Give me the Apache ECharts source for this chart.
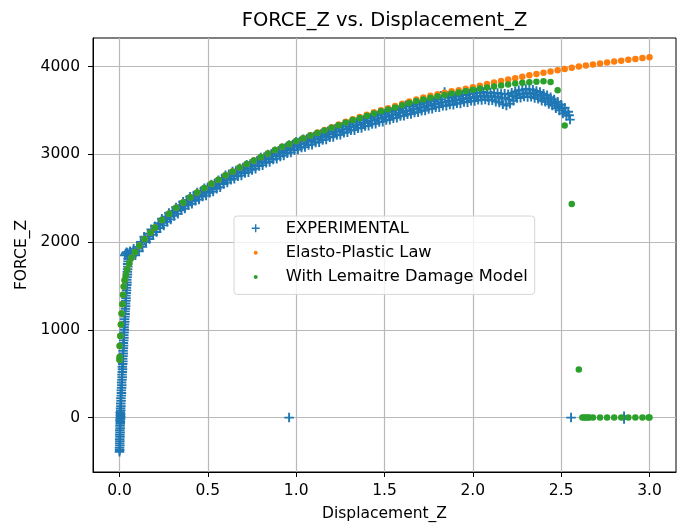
<!DOCTYPE html>
<html>
<head>
<meta charset="utf-8">
<title>FORCE_Z vs. Displacement_Z</title>
<script src="https://cdn.jsdelivr.net/npm/echarts@6/dist/echarts.min.js"></script>
<style>
  html, body { margin: 0; padding: 0; background: #fff; }
  #graph { width: 698px; height: 532px; }
</style>
</head>
<body>
<div id="graph"></div>
<script>
// tick labels
var xTicks = [0, 0.5, 1, 1.5, 2, 2.5, 3];
var yTicks = [0, 1000, 2000, 3000, 4000];

// EXPERIMENTAL: steep elastic rise near x = 0
var expRise = [
  [0.000,-390],[0.001,-370],[0.000,-345],[0.002,-320],[0.001,-295],[0.002,-270],[0.001,-245],[0.003,-220],
  [0.002,-195],[0.003,-170],[0.002,-145],[0.004,-120],[0.003,-95],[0.004,-70],[0.005,-50],[0.003,-30],
  [0.006,-15],[0.004,0],[0.007,10],[0.005,25],[0.006,40],[0.004,60],[0.007,80],[0.006,105],[0.008,130],
  [0.007,160],[0.009,190],[0.008,220],[0.010,250],[0.011,280],[0.010,310],[0.012,340],[0.013,370],
  [0.012,400],[0.014,430],[0.015,460],[0.014,490],[0.016,520],[0.017,550],[0.016,580],[0.018,610],
  [0.019,640],[0.018,670],[0.020,700],[0.021,730],[0.020,760],[0.022,790],[0.023,820],[0.022,850],
  [0.024,880],[0.025,910],[0.024,940],[0.026,970],[0.027,1000],[0.026,1030],[0.028,1060],[0.030,1090],
  [0.029,1120],[0.031,1150],[0.032,1180],[0.031,1210],[0.033,1240],[0.035,1270],[0.034,1300],
  [0.036,1330],[0.037,1360],[0.036,1390],[0.038,1420],[0.040,1450],[0.039,1480],[0.041,1510],
  [0.042,1540],[0.041,1570],[0.043,1600],[0.045,1630],[0.044,1660],[0.046,1690],[0.047,1720],
  [0.046,1750],[0.048,1780],[0.049,1810],[0.030,1850],[0.035,1870],[0.040,1885],[0.045,1875],
  [0.052,1860],[0.058,1855]
];

// EXPERIMENTAL: upper edge of the plastic band
var expUpper = [
  [0.06,1895],[0.08,1925],[0.10,1945],[0.12,2000],[0.14,2060],[0.16,2095],[0.18,2145],[0.20,2180],
  [0.22,2215],[0.24,2265],[0.26,2290],[0.28,2330],[0.30,2355],[0.32,2395],[0.34,2420],[0.36,2460],
  [0.38,2480],[0.40,2515],[0.42,2530],[0.44,2565],[0.46,2580],[0.48,2612],[0.50,2625],[0.52,2655],
  [0.54,2670],[0.56,2705],[0.58,2725],[0.60,2760],[0.62,2772],[0.64,2805],[0.66,2815],[0.68,2842],
  [0.70,2850],[0.72,2880],[0.74,2888],[0.76,2915],[0.78,2930],[0.80,2962],[0.82,2970],[0.84,2998],
  [0.86,3005],[0.88,3035],[0.90,3040],[0.92,3070],[0.94,3078],[0.96,3105],[0.98,3112],[1.00,3142],
  [1.02,3145],[1.04,3170],[1.06,3175],[1.08,3198],[1.10,3202],[1.12,3225],[1.14,3230],[1.16,3255],
  [1.18,3262],[1.20,3285],[1.22,3290],[1.24,3312],[1.26,3315],[1.28,3338],[1.30,3342],[1.32,3365],
  [1.34,3366],[1.36,3390],[1.38,3390],[1.40,3412],[1.42,3415],[1.44,3437],[1.46,3440],[1.48,3462],
  [1.50,3462],[1.52,3485],[1.54,3483],[1.56,3505],[1.58,3505],[1.60,3528],[1.62,3560],[1.64,3548],
  [1.66,3548],[1.68,3570],[1.70,3568],[1.72,3590],[1.74,3588],[1.76,3610],[1.78,3608],[1.80,3628],
  [1.82,3625],[1.84,3710],[1.86,3650],[1.88,3645],[1.90,3662],[1.92,3660],[1.94,3678],[1.96,3675],
  [1.98,3692],[2.00,3688],[2.02,3703],[2.04,3700],[2.06,3710],[2.08,3700],[2.10,3705],[2.12,3695],
  [2.14,3698],[2.16,3688],[2.18,3690],[2.20,3685],[2.22,3700],[2.24,3715],[2.26,3730],[2.28,3735],
  [2.30,3745],[2.32,3738],[2.34,3735],[2.36,3722],[2.38,3710],[2.40,3690],[2.42,3672],[2.44,3650],
  [2.46,3625],[2.48,3598],[2.50,3565],[2.52,3530],[2.54,3485]
];

// EXPERIMENTAL: middle of the plastic band
var expMid = [
  [0.065,1868],[0.085,1880],[0.105,1925],[0.125,1972],[0.145,2032],[0.165,2064],[0.185,2114],[0.205,2146],
  [0.225,2194],[0.245,2220],[0.265,2265],[0.285,2290],[0.305,2332],[0.325,2355],[0.345,2396],[0.365,2415],
  [0.385,2453],[0.405,2470],[0.425,2506],[0.445,2520],[0.465,2554],[0.485,2566],[0.505,2599],[0.525,2611],
  [0.545,2644],[0.565,2660],[0.585,2698],[0.605,2714],[0.625,2746],[0.645,2758],[0.665,2787],[0.685,2795],
  [0.705,2823],[0.725,2831],[0.745,2859],[0.765,2870],[0.785,2902],[0.805,2914],[0.825,2941],[0.845,2949],
  [0.865,2977],[0.885,2985],[0.905,3013],[0.925,3021],[0.945,3049],[0.965,3057],[0.985,3085],[1.005,3092],
  [1.025,3116],[1.045,3120],[1.065,3144],[1.085,3148],[1.105,3172],[1.125,3176],[1.145,3200],[1.165,3206],
  [1.185,3232],[1.205,3237],[1.225,3259],[1.245,3261],[1.265,3284],[1.285,3288],[1.305,3312],[1.325,3314],
  [1.345,3336],[1.365,3338],[1.385,3360],[1.405,3362],[1.425,3384],[1.445,3386],[1.465,3408],[1.485,3410],
  [1.505,3431],[1.525,3431],[1.545,3451],[1.565,3453],[1.585,3475],[1.605,3476],[1.625,3496],[1.645,3496],
  [1.665,3516],[1.685,3516],[1.705,3536],[1.725,3536],[1.745,3556],[1.765,3556],[1.785,3576],[1.805,3576],
  [1.825,3594],[1.845,3592],[1.865,3608],[1.885,3604],[1.905,3621],[1.925,3619],[1.945,3637],[1.965,3633],
  [1.985,3649],[2.005,3645],[2.025,3661],[2.045,3657],[2.065,3668],[2.085,3656],[2.105,3663],[2.125,3649],
  [2.145,3655],[2.165,3635],[2.185,3640],[2.205,3625],[2.225,3664],[2.245,3670],[2.265,3690],[2.285,3688],
  [2.305,3703],[2.325,3689],[2.345,3695],[2.365,3672],[2.385,3666],[2.405,3639],[2.425,3629],[2.445,3599],
  [2.465,3583],[2.485,3545],[2.505,3526],[2.525,3483],[2.545,3444]
];

// EXPERIMENTAL: lower edge of the plastic band
var expLower = [
  [0.07,1835],[0.09,1850],[0.11,1895],[0.13,1945],[0.15,2000],[0.17,2035],[0.19,2082],[0.21,2115],
  [0.23,2160],[0.25,2190],[0.27,2232],[0.29,2258],[0.31,2298],[0.33,2322],[0.35,2362],[0.37,2382],
  [0.39,2418],[0.41,2436],[0.43,2470],[0.45,2485],[0.47,2518],[0.49,2530],[0.51,2562],[0.53,2576],
  [0.55,2606],[0.57,2625],[0.59,2662],[0.61,2678],[0.63,2710],[0.65,2722],[0.67,2750],[0.69,2758],
  [0.71,2786],[0.73,2795],[0.75,2822],[0.77,2835],[0.79,2866],[0.81,2876],[0.83,2904],[0.85,2912],
  [0.87,2940],[0.89,2948],[0.91,2976],[0.93,2985],[0.95,3012],[0.97,3020],[0.99,3048],[1.01,3055],
  [1.03,3078],[1.05,3082],[1.07,3106],[1.09,3110],[1.11,3134],[1.13,3138],[1.15,3162],[1.17,3168],
  [1.19,3194],[1.21,3198],[1.23,3220],[1.25,3222],[1.27,3246],[1.29,3250],[1.31,3273],[1.33,3275],
  [1.35,3297],[1.37,3300],[1.39,3321],[1.41,3324],[1.43,3345],[1.45,3348],[1.47,3369],[1.49,3372],
  [1.51,3392],[1.53,3393],[1.55,3412],[1.57,3415],[1.59,3436],[1.61,3438],[1.63,3457],[1.65,3458],
  [1.67,3477],[1.69,3478],[1.71,3497],[1.73,3498],[1.75,3517],[1.77,3518],[1.79,3537],[1.81,3537],
  [1.83,3554],[1.85,3553],[1.87,3568],[1.89,3565],[1.91,3581],[1.93,3580],[1.95,3597],[1.97,3594],
  [1.99,3609],[2.01,3606],[2.03,3621],[2.05,3618],[2.07,3625],[2.09,3614],[2.11,3615],[2.13,3600],
  [2.15,3590],[2.17,3570],[2.19,3555],[2.21,3575],[2.23,3610],[2.25,3640],[2.27,3645],[2.29,3658],
  [2.31,3652],[2.33,3655],[2.35,3642],[2.37,3632],[2.39,3610],[2.41,3598],[2.43,3572],[2.45,3555],
  [2.47,3525],[2.49,3500],[2.51,3465],[2.53,3440],[2.55,3395]
];

// EXPERIMENTAL: points after fracture
var expStray = [[0.96,0],[2.556,0],[2.856,15],[2.856,-15]];

// Elasto-Plastic Law
var plasticLaw = [
  [0.000,660],[0.001,690],[0.001,815],[0.005,930],[0.008,1060],[0.012,1186],[0.016,1292],[0.020,1400],
  [0.024,1495],[0.029,1565],[0.036,1625],[0.044,1688],[0.055,1755],[0.068,1820],[0.088,1888],
  [0.112,1962],[0.142,2036],[0.175,2105],[0.20,2165],[0.24,2250],[0.28,2322],[0.32,2390],[0.36,2452],
  [0.40,2511],[0.44,2566],[0.48,2617],[0.52,2664],[0.56,2710],[0.60,2760],[0.64,2805],[0.68,2850],
  [0.72,2890],[0.76,2928],[0.80,2970],[0.84,3010],[0.88,3048],[0.92,3085],[0.96,3118],[1.00,3152],
  [1.04,3184],[1.08,3216],[1.12,3247],[1.16,3277],[1.20,3308],[1.24,3339],[1.28,3370],[1.32,3399],
  [1.36,3424],[1.40,3451],[1.44,3478],[1.48,3502],[1.52,3525],[1.56,3550],[1.60,3577],[1.64,3602],
  [1.68,3625],[1.72,3646],[1.76,3666],[1.80,3683],[1.84,3700],[1.88,3717],[1.92,3731],[1.96,3747],
  [2.00,3763],[2.04,3781],[2.08,3800],[2.12,3818],[2.16,3835],[2.20,3851],[2.24,3867],[2.28,3883],
  [2.32,3900],[2.36,3915],[2.40,3930],[2.44,3944],[2.48,3958],[2.52,3972],[2.56,3986],[2.60,3999],
  [2.64,4012],[2.68,4024],[2.72,4035],[2.76,4046],[2.80,4057],[2.84,4067],[2.88,4077],[2.92,4087],
  [2.96,4097],[3.00,4107]
];

// With Lemaitre Damage Model
var lemaitre = [
  [0.000,660],[0.001,690],[0.001,815],[0.005,930],[0.008,1060],[0.012,1186],[0.016,1292],[0.020,1400],
  [0.024,1495],[0.029,1565],[0.036,1625],[0.044,1688],[0.055,1755],[0.068,1820],[0.088,1888],
  [0.112,1962],[0.142,2036],[0.175,2105],[0.20,2165],[0.24,2250],[0.28,2322],[0.32,2390],[0.36,2452],
  [0.40,2511],[0.44,2566],[0.48,2617],[0.52,2664],[0.56,2710],[0.60,2760],[0.64,2805],[0.68,2850],
  [0.72,2890],[0.76,2928],[0.80,2970],[0.84,3010],[0.88,3048],[0.92,3085],[0.96,3118],[1.00,3152],
  [1.04,3182],[1.08,3213],[1.12,3243],[1.16,3272],[1.20,3302],[1.24,3332],[1.28,3362],[1.32,3390],
  [1.36,3414],[1.40,3440],[1.44,3466],[1.48,3489],[1.52,3511],[1.56,3534],[1.60,3560],[1.64,3584],
  [1.68,3606],[1.72,3625],[1.76,3644],[1.80,3660],[1.84,3676],[1.88,3692],[1.92,3705],[1.96,3720],
  [2.00,3735],[2.04,3749],[2.08,3761],[2.12,3773],[2.16,3784],[2.20,3795],[2.24,3806],[2.28,3815],
  [2.32,3822],[2.36,3827],[2.40,3833],[2.44,3825],[2.48,3730],[2.52,3328],[2.56,2435],[2.60,548],
  [2.62,0],[2.63,0],[2.64,0],[2.65,0],[2.66,0],[2.68,0],[2.72,0],[2.76,0],[2.80,0],[2.84,0],
  [2.88,0],[2.92,0],[2.96,0],[2.995,0],[3.00,0]
];

var colors = ['#1f77b4', '#ff7f0e', '#2ca02c'];
var font = 'DejaVu Sans';
var plusMark = 'path://M0,4H10V6H0Z M4,0H6V10H4Z';
var plusIcon = 'path://M0,0M40,14M11,6.3H19V7.7H11Z M14.3,3H15.7V11H14.3Z';
var dotIcon = 'path://M0,0M40,14M13,7A2,2,0,1,0,17,7A2,2,0,1,0,13,7Z';

var dom = document.getElementById('graph');
var myChart = echarts.init(dom, null, { renderer: 'canvas' });

var option = {
  animation: false,
  color: colors,
  textStyle: { fontFamily: font },
  title: {
    text: 'FORCE_Z vs. Displacement_Z',
    left: 384.5,
    top: 11,
    padding: 0,
    textAlign: 'center',
    textStyle: { fontFamily: font, fontSize: 19.5, fontWeight: 'normal', color: '#000' }
  },
  legend: {
    orient: 'vertical',
    left: 234,
    top: 216,
    padding: [4.3, 7, 9.3, 6.7],
    itemWidth: 40,
    itemHeight: 14,
    itemGap: 8.4,
    backgroundColor: 'rgba(255,255,255,0.8)',
    borderColor: '#d6d6d6',
    borderWidth: 1,
    borderRadius: 3,
    selectedMode: false,
    textStyle: { fontFamily: font, fontSize: 16.3, lineHeight: 16, color: '#000' },
    data: [
      { name: 'EXPERIMENTAL', icon: plusIcon },
      { name: 'Elasto-Plastic Law', icon: dotIcon },
      { name: 'With Lemaitre Damage Model', icon: dotIcon }
    ]
  },
  grid: {
    left: 93,
    right: 22,
    top: 38,
    bottom: 60,
    show: true,
    borderColor: '#000',
    borderWidth: 1,
    backgroundColor: 'transparent'
  },
  xAxis: {
    type: 'value',
    min: -0.15,
    max: 3.15,
    name: 'Displacement_Z',
    nameLocation: 'middle',
    nameGap: 34,
    nameTextStyle: { fontFamily: font, fontSize: 15.5, color: '#000' },
    axisLine: { show: true, onZero: false, lineStyle: { color: '#000', width: 1 } },
    axisTick: { show: true, length: 5, customValues: xTicks, lineStyle: { color: '#000', width: 1 } },
    axisLabel: {
      customValues: xTicks,
      margin: 11,
      fontFamily: font,
      fontSize: 15.5,
      color: '#000',
      formatter: function (v) { return v.toFixed(1); }
    },
    splitLine: { show: true, lineStyle: { color: '#b9b9b9', width: 1.2 } }
  },
  yAxis: {
    type: 'value',
    min: -620,
    max: 4325,
    name: 'FORCE_Z',
    nameLocation: 'middle',
    nameGap: 50,
    nameTextStyle: { fontFamily: font, fontSize: 15.5, color: '#000' },
    axisLine: { show: true, onZero: false, lineStyle: { color: '#000', width: 1 } },
    axisTick: { show: true, length: 5, customValues: yTicks, lineStyle: { color: '#000', width: 1 } },
    axisLabel: {
      customValues: yTicks,
      margin: 13,
      fontFamily: font,
      fontSize: 15.5,
      color: '#000',
      formatter: function (v) { return String(v); }
    },
    splitLine: { show: true, lineStyle: { color: '#b9b9b9', width: 1.2 } }
  },
  series: [
    {
      name: 'EXPERIMENTAL',
      type: 'scatter',
      symbol: plusMark,
      symbolSize: 9.5,
      itemStyle: { color: colors[0], opacity: 1 },
      silent: true,
      data: expRise.concat(expUpper, expMid, expLower, expStray)
    },
    {
      name: 'Elasto-Plastic Law',
      type: 'scatter',
      symbol: 'circle',
      symbolSize: 6.5,
      itemStyle: { color: colors[1], opacity: 1 },
      silent: true,
      data: plasticLaw
    },
    {
      name: 'With Lemaitre Damage Model',
      type: 'scatter',
      symbol: 'circle',
      symbolSize: 6.5,
      itemStyle: { color: colors[2], opacity: 1 },
      silent: true,
      data: lemaitre
    }
  ]
};

if (option && typeof option === 'object') {
  myChart.setOption(option, true);
}
</script>
</body>
</html>
